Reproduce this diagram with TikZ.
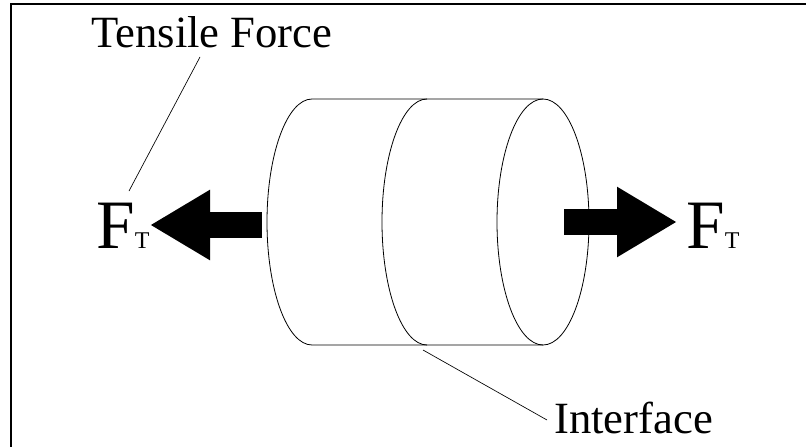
\documentclass[tikz,border=0pt]{standalone}
\usepackage{fontspec}
\setmainfont{Liberation Serif}
\usetikzlibrary{arrows.meta}
\newcommand{\bigF}{\fontsize{52pt}{52pt}\selectfont}
\newcommand{\smallT}{\fontsize{18pt}{18pt}\selectfont}
\newcommand{\labelsize}{\fontsize{33.5pt}{33.5pt}\selectfont}
\begin{document}
\begin{tikzpicture}[x=0.75pt, y=-0.75pt,
	lbl/.style={anchor=base west, inner sep=0pt},
	leader/.style={line width=0.5pt},
	outline/.style={line width=0.6pt},
	force/.style={line width=19.5pt, -{Triangle[length=45pt, width=49.5pt]}}]
	\useasboundingbox (0,0) rectangle (806,446);
	\clip (0,0) rectangle (806,446);
	\draw [line width=1.2pt] (11,4) rectangle (812,452);
	% cylinder
	\draw [outline] (543,99) -- (312,99) arc [start angle=270, end angle=90, x radius=45, y radius=123] -- (543,345);
	\draw [outline] (427,99) arc [start angle=270, end angle=90, x radius=45, y radius=123];
	\draw [outline] (543,222) ellipse [x radius=46, y radius=123];
	% labels
	\node [lbl] (tensile) at (91,47) {\labelsize Tensile Force};
	\node [lbl] (interface) at (554,433) {\labelsize Interface};
	\node [lbl] (fleft) at (96,248) {\bigF F\smallT T};
	\node [lbl] (fright) at (686,248) {\bigF F\smallT T};
	% force arrows
	\coordinate (leftbase) at (262,225);
	\coordinate (lefttip) at (150,225);
	\coordinate (rightbase) at (564,222);
	\coordinate (righttip) at (677,222);
	\draw [force] (leftbase) -- (lefttip);
	\draw [force] (rightbase) -- (righttip);
	% leaders
	\coordinate (tensileend) at (200,57);
	\coordinate (ftop) at (129,191);
	\coordinate (seam) at (423,350);
	\coordinate (interfaceend) at (547,420);
	\draw [leader] (tensileend) -- (ftop);
	\draw [leader] (seam) -- (interfaceend);
\end{tikzpicture}
\end{document}
